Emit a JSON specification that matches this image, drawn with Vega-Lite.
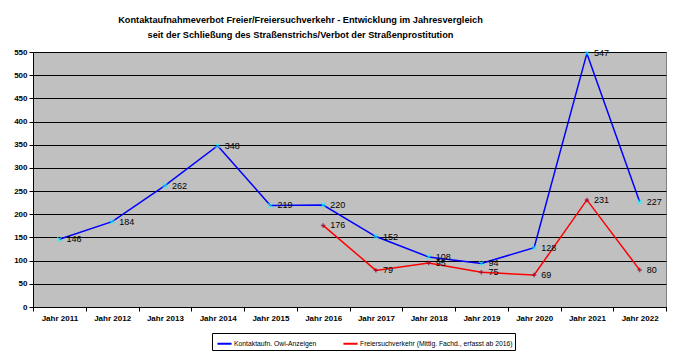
{
  "$schema": "https://vega.github.io/schema/vega-lite/v6.json",
  "autosize": {"type": "none"},
  "width": 633,
  "height": 255,
  "padding": {"left": 33, "top": 52, "right": 16, "bottom": 48},
  "background": "white",
  "config": {
    "font": "Liberation Sans",
    "view": {"fill": "#C0C0C0", "stroke": "#808080", "strokeWidth": 1}
  },
  "title": {
    "text": ["Kontaktaufnahmeverbot Freier/Freiersuchverkehr - Entwicklung im Jahresvergleich", "seit der Schließung des Straßenstrichs/Verbot der Straßenprostitution"],
    "fontSize": 9.2,
    "fontWeight": "bold",
    "lineHeight": 15,
    "anchor": "middle",
    "frame": "group",
    "dx": -49,
    "offset": 8,
    "color": "black"
  },
  "data": {
    "values": [
      {"year": "Jahr 2011", "series": "Kontaktaufn. Owi-Anzeigen", "value": 146},
      {"year": "Jahr 2012", "series": "Kontaktaufn. Owi-Anzeigen", "value": 184},
      {"year": "Jahr 2013", "series": "Kontaktaufn. Owi-Anzeigen", "value": 262},
      {"year": "Jahr 2014", "series": "Kontaktaufn. Owi-Anzeigen", "value": 348},
      {"year": "Jahr 2015", "series": "Kontaktaufn. Owi-Anzeigen", "value": 219},
      {"year": "Jahr 2016", "series": "Kontaktaufn. Owi-Anzeigen", "value": 220},
      {"year": "Jahr 2017", "series": "Kontaktaufn. Owi-Anzeigen", "value": 152},
      {"year": "Jahr 2018", "series": "Kontaktaufn. Owi-Anzeigen", "value": 108},
      {"year": "Jahr 2019", "series": "Kontaktaufn. Owi-Anzeigen", "value": 94},
      {"year": "Jahr 2020", "series": "Kontaktaufn. Owi-Anzeigen", "value": 128},
      {"year": "Jahr 2021", "series": "Kontaktaufn. Owi-Anzeigen", "value": 547},
      {"year": "Jahr 2022", "series": "Kontaktaufn. Owi-Anzeigen", "value": 227},
      {"year": "Jahr 2016", "series": "Freiersuchverkehr (Mittlg. Fachd., erfasst ab 2016)", "value": 176},
      {"year": "Jahr 2017", "series": "Freiersuchverkehr (Mittlg. Fachd., erfasst ab 2016)", "value": 79},
      {"year": "Jahr 2018", "series": "Freiersuchverkehr (Mittlg. Fachd., erfasst ab 2016)", "value": 95},
      {"year": "Jahr 2019", "series": "Freiersuchverkehr (Mittlg. Fachd., erfasst ab 2016)", "value": 75},
      {"year": "Jahr 2020", "series": "Freiersuchverkehr (Mittlg. Fachd., erfasst ab 2016)", "value": 69},
      {"year": "Jahr 2021", "series": "Freiersuchverkehr (Mittlg. Fachd., erfasst ab 2016)", "value": 231},
      {"year": "Jahr 2022", "series": "Freiersuchverkehr (Mittlg. Fachd., erfasst ab 2016)", "value": 80}
    ]
  },
  "encoding": {
    "x": {
      "field": "year",
      "type": "ordinal",
      "sort": null,
      "bandPosition": 0.5,
      "scale": {"type": "band", "paddingInner": 0, "paddingOuter": 0},
      "axis": {
        "title": null,
        "labelAngle": 0,
        "tickBand": "extent",
        "labelFontSize": 8,
        "labelFontWeight": "bold",
        "labelColor": "black",
        "labelPadding": 3,
        "tickSize": 4,
        "tickColor": "black",
        "domainColor": "black",
        "grid": false
      }
    },
    "y": {
      "field": "value",
      "type": "quantitative",
      "scale": {"domain": [0, 550], "nice": false},
      "axis": {
        "title": null,
        "values": [0, 50, 100, 150, 200, 250, 300, 350, 400, 450, 500, 550],
        "labelFontSize": 8,
        "labelFontWeight": "bold",
        "labelColor": "black",
        "labelPadding": 2,
        "tickSize": 4,
        "tickColor": "black",
        "domainColor": "black",
        "grid": true,
        "gridColor": "black",
        "gridWidth": 1,
        "gridOpacity": 1
      }
    }
  },
  "layer": [
    {
      "mark": {"type": "line", "strokeWidth": 1.5},
      "encoding": {
        "color": {
          "field": "series",
          "type": "nominal",
          "scale": {
            "domain": ["Kontaktaufn. Owi-Anzeigen", "Freiersuchverkehr (Mittlg. Fachd., erfasst ab 2016)"],
            "range": ["#0000FF", "#FF0000"]
          },
          "legend": {
            "title": null,
            "orient": "none",
            "legendX": 179,
            "legendY": 281,
            "direction": "horizontal",
            "symbolType": "stroke",
            "symbolSize": 200,
            "symbolStrokeWidth": 2,
            "symbolOffset": 2,
            "labelFontSize": 6.8,
            "labelOffset": 1,
            "labelColor": "black",
            "labelLimit": 300,
            "columnPadding": 22,
            "padding": 2,
            "strokeColor": "black",
            "fillColor": "white"
          }
        }
      }
    },
    {
      "transform": [{"filter": "datum.series === 'Kontaktaufn. Owi-Anzeigen'"}],
      "mark": {"type": "point", "shape": "M-1,-1L1,1M-1,1L1,-1", "size": 20, "stroke": "#00FFFF", "strokeWidth": 1.2, "filled": false}
    },
    {
      "transform": [{"filter": "datum.series !== 'Kontaktaufn. Owi-Anzeigen'"}],
      "mark": {"type": "point", "shape": "M-1,0L1,0M0,-1L0,1", "size": 20, "stroke": "#990033", "strokeWidth": 1.5, "filled": false}
    },
    {
      "mark": {"type": "text", "align": "left", "baseline": "middle", "dx": 7, "fontSize": 9, "color": "black"},
      "encoding": {"text": {"field": "value", "type": "quantitative"}}
    }
  ]
}
